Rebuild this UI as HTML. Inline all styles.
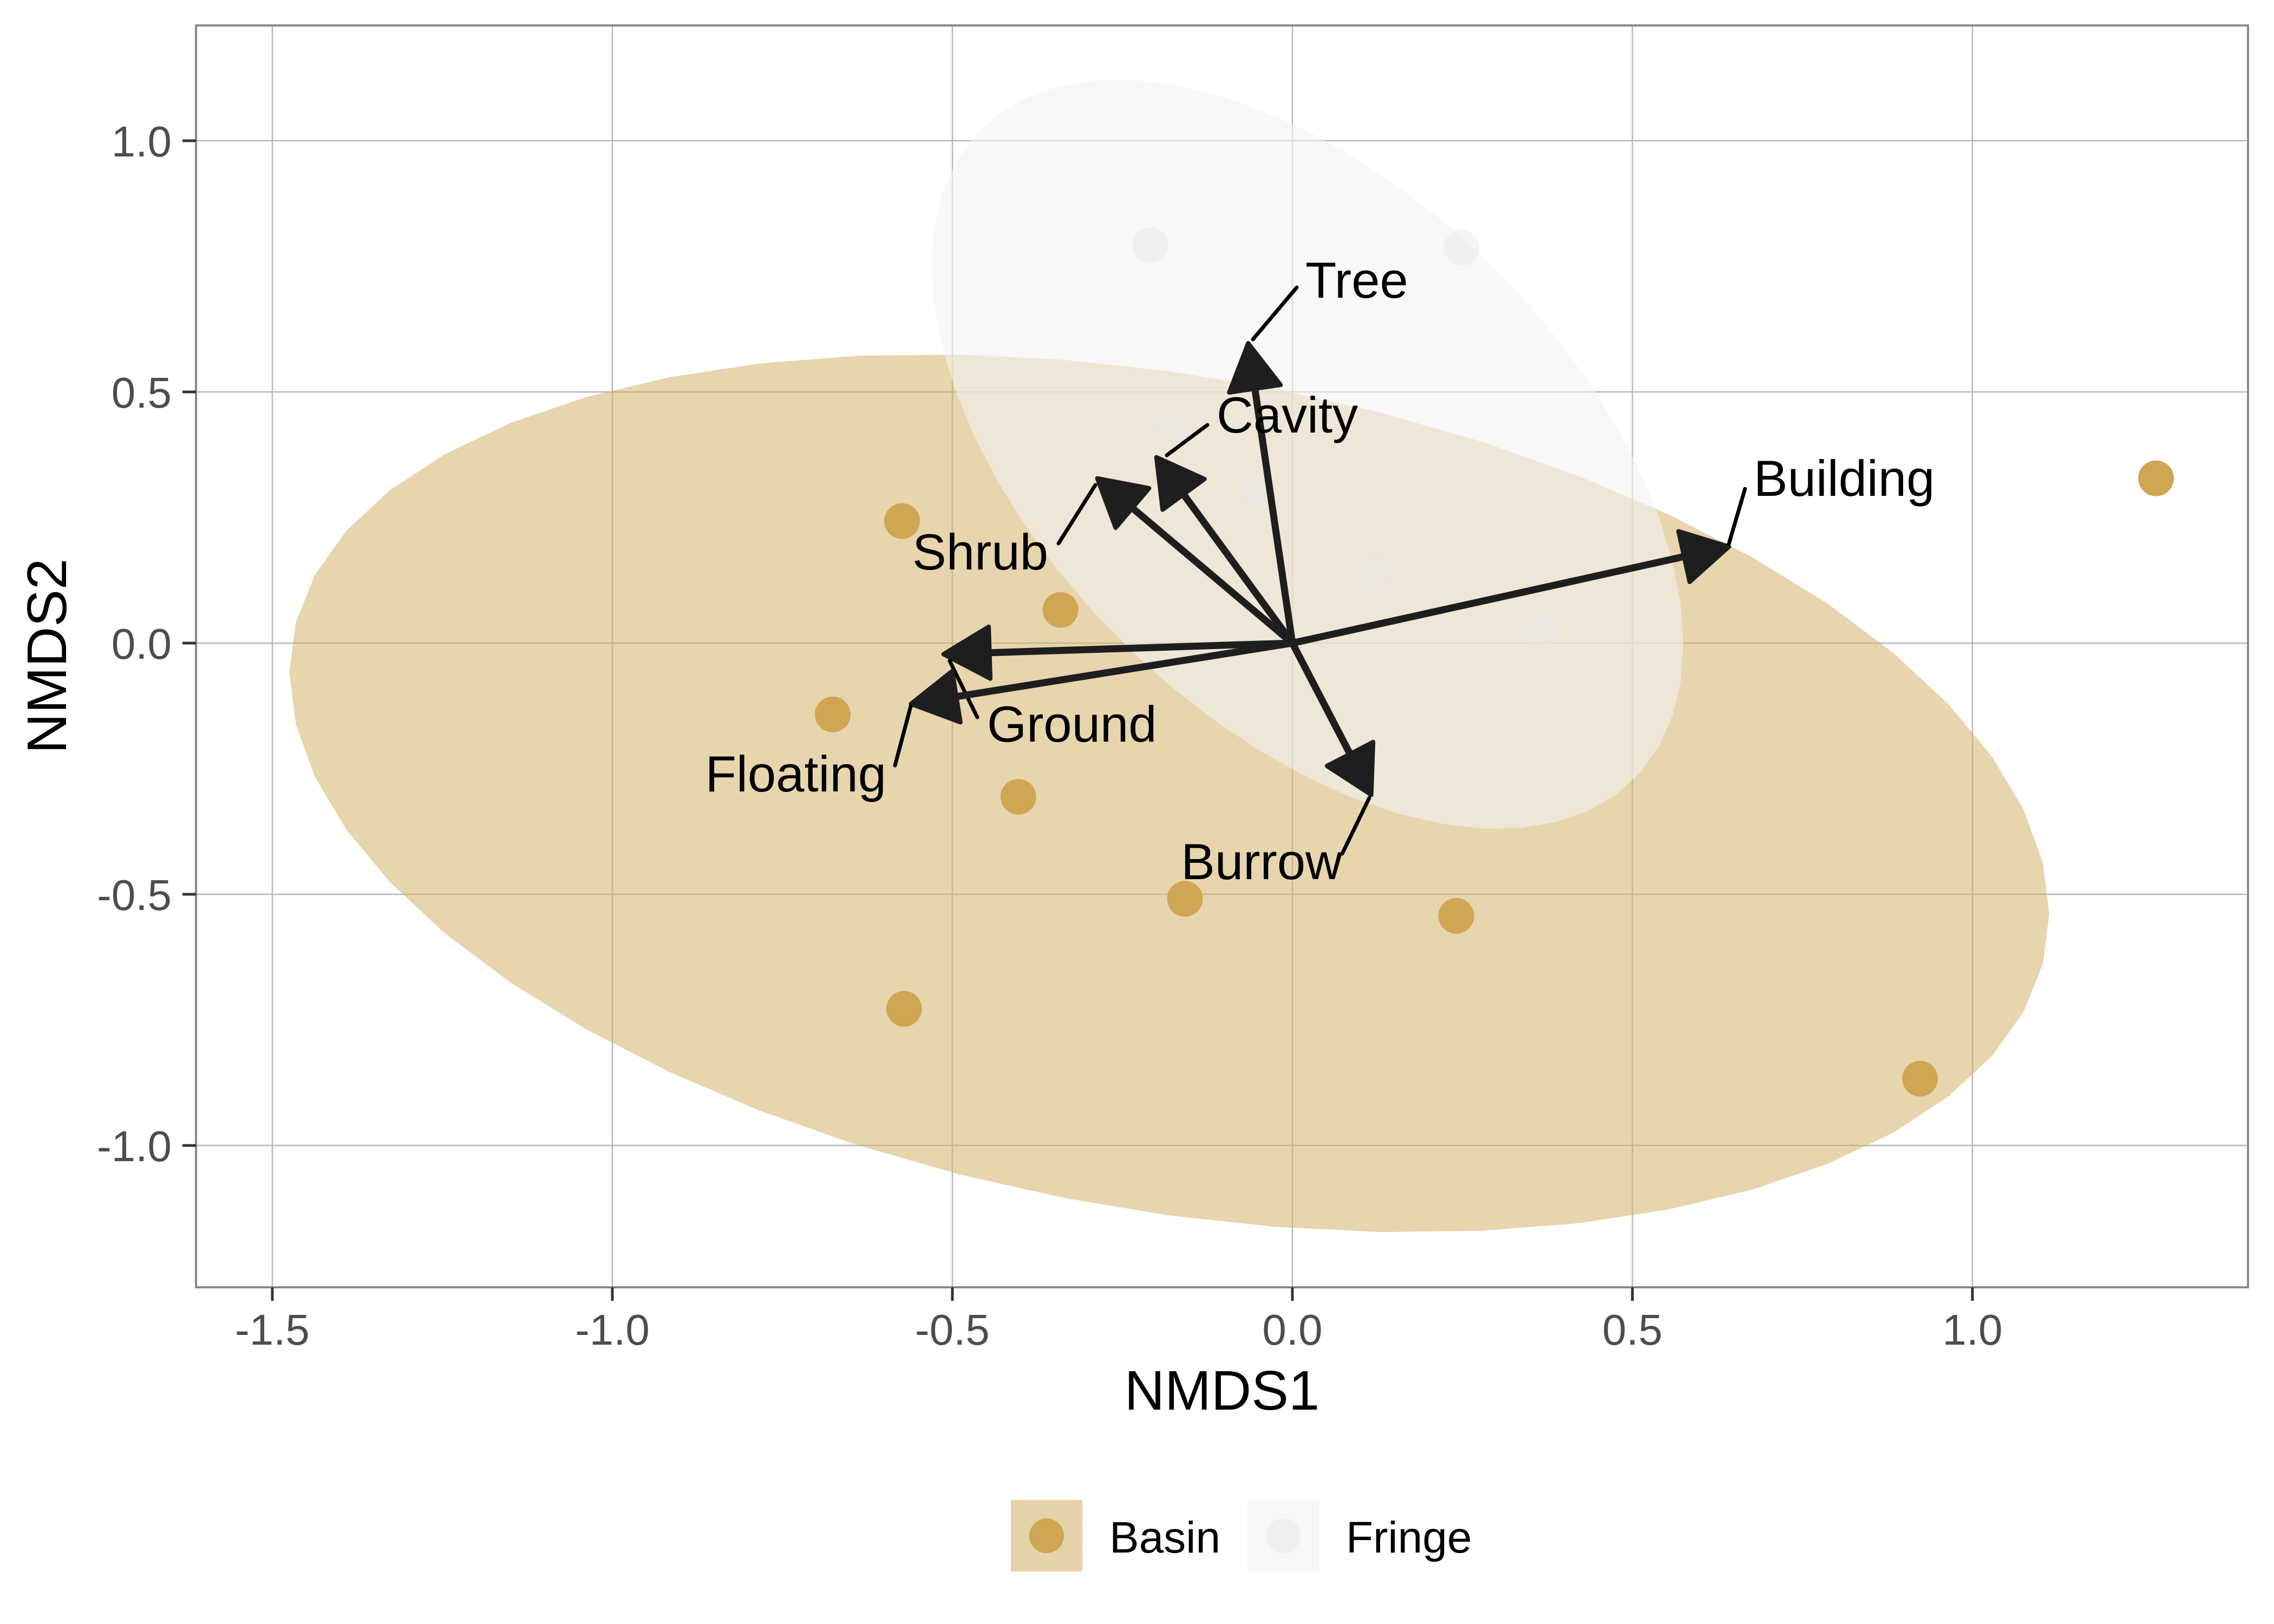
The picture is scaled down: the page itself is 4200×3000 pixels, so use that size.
<!DOCTYPE html>
<html><head><meta charset="utf-8"><style>
html,body{margin:0;padding:0;background:#fff;}
svg{display:block;}
</style></head><body>
<svg id="chart" width="4200" height="3000" viewBox="0 0 4200 3000" xmlns="http://www.w3.org/2000/svg" font-family="'Liberation Sans', sans-serif">
<rect x="0" y="0" width="4200" height="3000" fill="#fff"/>
<g id="plot"></g>
</svg>
<script>
// ---- data ----
const basinX = [-0.574,-0.341,-0.676,-0.403,-0.158,0.241,-0.571,0.923,1.270];
const basinY = [0.243,0.066,-0.142,-0.306,-0.509,-0.543,-0.728,-0.867,0.328];
const fringeX = [-0.209,0.249,-0.180,-0.049,0.119,0.363];
const fringeY = [0.792,0.787,0.428,0.305,0.138,0.031];
const vectorNames = ["Tree","Cavity","Shrub","Building","Ground","Floating","Burrow"];
const vectorX = [-0.065,-0.200,-0.287,0.642,-0.513,-0.561,0.116];
const vectorY = [0.597,0.370,0.328,0.192,-0.022,-0.121,-0.302];
// ellipse params: center x, center y, radius x, radius y, phase
const basinEllipse = [-0.181,-0.299,1.294,0.874,-0.279];
const fringeEllipse = [0.022,0.376,0.553,0.746,-0.531];
const xTicks = [-1.5,-1.0,-0.5,0.0,0.5,1.0];
const yTicks = [-1.0,-0.5,0.0,0.5,1.0];
const xTickLabels = ["-1.5","-1.0","-0.5","0.0","0.5","1.0"];
const yTickLabels = ["-1.0","-0.5","0.0","0.5","1.0"];

// ---- layout ----
const P = {l:362,t:47,r:4152,b:2378};
const X0 = 2387, XS = 1256, Y0 = 1188, YS = 928;
const sx = v => X0 + v*XS;
const sy = v => Y0 - v*YS;
// label offsets (pixel layout, not data): [dx,dy, anchor, leader from tip offset & to]
const labelLayout = {
  Tree:{tx:2411,ty:550,a:"start",l:[2314,627,2395,531]},
  Cavity:{tx:2247,ty:799,a:"start",l:[2155,841,2230,785]},
  Shrub:{tx:1936,ty:1052,a:"end",l:[2023,896,1955,1004]},
  Building:{tx:3239,ty:916,a:"start",l:[3193,1005,3223,903]},
  Ground:{tx:1823,ty:1370,a:"start",l:[1754,1221,1805,1325]},
  Floating:{tx:1637,ty:1462,a:"end",l:[1682,1305,1653,1414]},
  Burrow:{tx:2479,ty:1624,a:"end",l:[2529,1474,2479,1577]}
};

const NS="http://www.w3.org/2000/svg";
const root=document.getElementById('plot');
function mk(tag,attrs,parent){const e=document.createElementNS(NS,tag);for(const k in attrs)e.setAttribute(k,attrs[k]);(parent||root).appendChild(e);return e;}

// clip
const defs=mk('defs',{});
const cp=mk('clipPath',{id:'pc'},defs);
mk('rect',{x:P.l,y:P.t,width:P.r-P.l,height:P.b-P.t},cp);

// gridlines
const grid=mk('g',{});


xTicks.forEach(v=>{const g=mk('line',{x1:sx(v),x2:sx(v),y1:P.t,y2:P.b,stroke:'#b8b8b8','stroke-width':2.5},grid);

});
yTicks.forEach(v=>{const g=mk('line',{x1:P.l,x2:P.r,y1:sy(v),y2:sy(v),stroke:'#b8b8b8','stroke-width':2.5},grid);

});

const plotArea=mk('g',{'clip-path':'url(#pc)'});
function ellipsePts(e){const pts=[];const N=52;for(let i=0;i<N;i++){const t=2*Math.PI*i/N;pts.push(sx(e[0]+e[2]*Math.cos(t)).toFixed(1)+','+sy(e[1]+e[3]*Math.sin(t+e[4])).toFixed(1));}return pts.join(' ');}
const be=mk('polygon',{points:ellipsePts(basinEllipse),fill:'#d4b26a','fill-opacity':0.55},plotArea);


const fe=mk('polygon',{points:ellipsePts(fringeEllipse),fill:'#f3f3f3','fill-opacity':0.6},plotArea);



basinX.forEach((v,i)=>{const c=mk('circle',{cx:sx(v),cy:sy(basinY[i]),r:33,fill:'#cfa653'},plotArea);

});
fringeX.forEach((v,i)=>{const c=mk('circle',{cx:sx(v),cy:sy(fringeY[i]),r:33,fill:'#e6e6e6','fill-opacity':0.45},plotArea);

});

// arrows
vectorNames.forEach((n,i)=>{
  const x1=sx(0),y1=sy(0),x2=sx(vectorX[i]),y2=sy(vectorY[i]);
  const ang=Math.atan2(y2-y1,x2-x1);const L=85,W=48;
  const bx=x2-L*Math.cos(ang),by=y2-L*Math.sin(ang);
  const g=mk('g',{},plotArea);
  
  
  mk('line',{x1:x1,y1:y1,x2:bx,y2:by,stroke:'#1e1e1e','stroke-width':13},g);
  mk('polygon',{points:[x2,y2,bx-W*Math.sin(ang),by+W*Math.cos(ang),bx+W*Math.sin(ang),by-W*Math.cos(ang)].join(','),fill:'#1e1e1e',stroke:'#1e1e1e','stroke-width':8,'stroke-linejoin':'round'},g);
  const lay=labelLayout[n];
  const ld=mk('line',{x1:lay.l[0],y1:lay.l[1],x2:lay.l[2],y2:lay.l[3],stroke:'#000','stroke-width':7,'stroke-linecap':'round'},g);
  
  
  const t=mk('text',{x:lay.tx,y:lay.ty,'text-anchor':lay.a,'font-size':94,fill:'#000'},g);
  t.textContent=n;
  
  
});

// frame
const fr=mk('rect',{x:P.l,y:P.t,width:P.r-P.l,height:P.b-P.t,fill:'none',stroke:'#8a8a8a','stroke-width':4});



// ticks & labels
xTicks.forEach((v,i)=>{mk('line',{x1:sx(v),x2:sx(v),y1:P.b,y2:P.b+25,stroke:'#333','stroke-width':5});
const t=mk('text',{x:sx(v),y:2484,'text-anchor':'middle','font-size':80,fill:'#4d4d4d'});t.textContent=xTickLabels[i];

});
yTicks.forEach((v,i)=>{mk('line',{x1:P.l-25,x2:P.l,y1:sy(v),y2:sy(v),stroke:'#333','stroke-width':5});
const t=mk('text',{x:P.l-45,y:sy(v)+29,'text-anchor':'end','font-size':80,fill:'#4d4d4d'});t.textContent=yTickLabels[i];

});

const xt=mk('text',{x:(P.l+P.r)/2,y:2604,'text-anchor':'middle','font-size':103,fill:'#000'});xt.textContent='NMDS1';


const yt=mk('text',{x:0,y:0,'text-anchor':'middle','font-size':103,fill:'#000',transform:'translate(122,1212) rotate(-90)'});yt.textContent='NMDS2';



// legend
const lg=mk('g',{});


const b1=mk('g',{},lg);


mk('rect',{x:1867,y:2771,width:132,height:132,fill:'#e5d2a8'},b1);
mk('circle',{cx:1933,cy:2837,r:32,fill:'#cfa653'},b1);
const lt1=mk('text',{x:2049,y:2868,'font-size':82,fill:'#000'},b1);lt1.textContent='Basin';
const b2=mk('g',{},lg);


mk('rect',{x:2304,y:2771,width:132,height:132,fill:'#f7f7f7'},b2);
mk('circle',{cx:2370,cy:2837,r:32,fill:'#efefef'},b2);
const lt2=mk('text',{x:2486,y:2868,'font-size':82,fill:'#000'},b2);lt2.textContent='Fringe';
</script>
</body></html>
